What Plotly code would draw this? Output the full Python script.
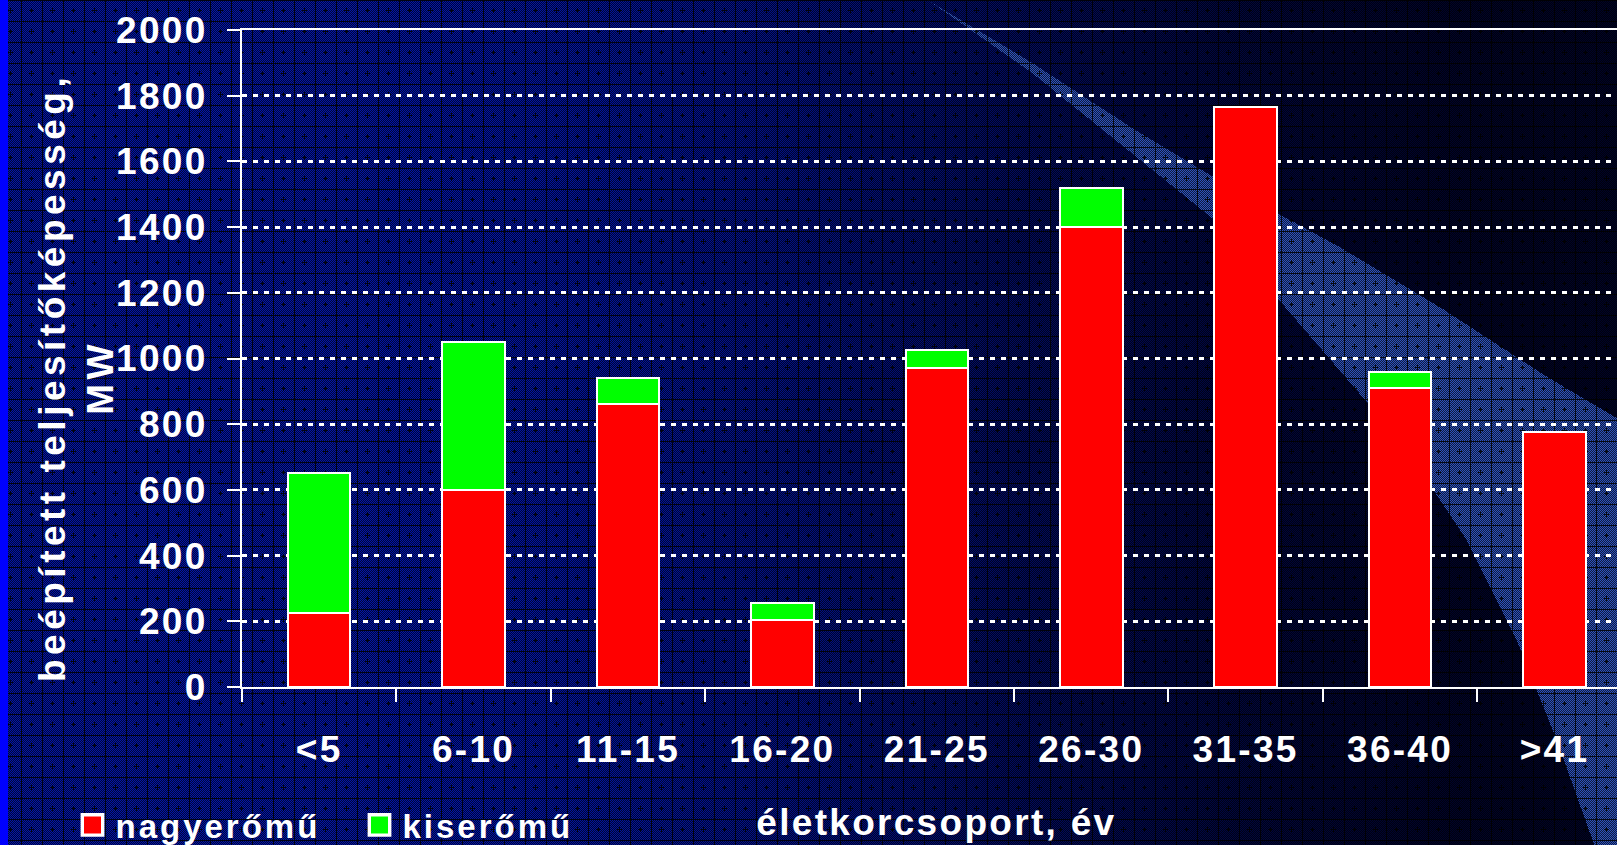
import base64
import struct
import zlib

import numpy as np
import plotly.graph_objects as go

# ---- data -------------------------------------------------------------
categories = ["<5", "6-10", "11-15", "16-20", "21-25", "26-30", "31-35", "36-40", ">41"]
nagyeromu = [225, 600, 860, 205, 970, 1400, 1765, 910, 775]
kiseromu = [425, 450, 80, 50, 55, 120, 0, 50, 0]
y_tick_values = list(range(0, 2001, 200))

# ---- canvas geometry ----------------------------------------------------
W, H = 1617, 845
ML, MR, MT, MB = 242, 0, 30, 158
PW, PH = W - ML - MR, H - MT - MB

# ---- textured slide background (gradient, mesh and light band) ----------
yy, xx = np.mgrid[0:H, 0:W].astype(float)
s = np.clip((xx - 380.0) / 1200.0, 0, 1)
s = s * s * (3 - 2 * s)
c_left = np.array([2.0, 14.0, 112.0])
c_right = np.array([0.0, 2.0, 26.0])
base = c_left * (1 - s)[..., None] + c_right * s[..., None]

upper_y = [0, 62, 129, 191, 247, 309, 376, 418, 530, 845]
upper_x = [928, 1031, 1134, 1237, 1340, 1443, 1546, 1617, 1800, 2300]
lower_y = [0, 72, 155, 222, 299, 371, 443, 536, 639, 742, 845]
lower_x = [928, 1031, 1134, 1217, 1278, 1340, 1402, 1464, 1516, 1557, 1594]
rows = np.arange(H, dtype=float)
xu = np.interp(rows, upper_y, upper_x)
xl = np.interp(rows, lower_y, lower_x)
band = (xx >= xl[:, None]) & (xx <= xu[:, None])
base[band] = np.array([30.0, 54.0, 125.0])

cell = 21
cx = xx % cell
cy = yy % cell
tex = np.where(((xx + yy) % 2) == 0, 1.5, 0.5)
mesh = (cx == 0) | (cy == 0)
plus = ((cx == 10) & (np.abs(cy - 10) <= 2)) | ((cy == 10) & (np.abs(cx - 10) <= 2))
tex = np.where(mesh | plus, 0.15, tex)
img = np.clip(base * tex[..., None], 0, 255).astype(np.uint8)
img[:, :8] = (0, 0, 255)


def png_bytes(arr):
    h, w, _ = arr.shape
    raw = np.concatenate([np.zeros((h, 1), np.uint8), arr.reshape(h, w * 3)], axis=1).tobytes()

    def chunk(tag, data):
        return (struct.pack(">I", len(data)) + tag + data
                + struct.pack(">I", zlib.crc32(tag + data) & 0xFFFFFFFF))

    return (b"\x89PNG\r\n\x1a\n"
            + chunk(b"IHDR", struct.pack(">IIBBBBB", w, h, 8, 2, 0, 0, 0))
            + chunk(b"IDAT", zlib.compress(raw, 9))
            + chunk(b"IEND", b""))


bg_uri = "data:image/png;base64," + base64.b64encode(png_bytes(img)).decode()

# ---- figure --------------------------------------------------------------
FONT = "Liberation Sans, Arial, sans-serif"
title_font = dict(size=37, color="white", family=FONT, weight="bold")

fig = go.Figure()
fig.add_bar(name="nagyerőmű", x=categories, y=nagyeromu,
            marker=dict(color="#ff0000", line=dict(color="white", width=2)))
fig.add_bar(name="kiserőmű", x=categories, y=kiseromu,
            marker=dict(color="#00ff00", line=dict(color="white", width=2)))

fig.update_layout(
    width=W, height=H,
    margin=dict(l=ML, r=MR, t=MT, b=MB, pad=0, autoexpand=False),
    paper_bgcolor="#000a50",
    plot_bgcolor="rgba(0,0,0,0)",
    barmode="stack",
    bargap=0.595,
    font=dict(family=FONT, size=37, color="white", weight="bold"),
    showlegend=True,
    legend=dict(
        orientation="h", traceorder="normal",
        xref="container", yref="container",
        x=75.5 / W, y=20 / H, xanchor="left", yanchor="middle",
        font=dict(size=33, color="white", family=FONT, weight="bold"),
        bgcolor="rgba(0,0,0,0)", entrywidth=242,
    ),
    images=[dict(
        source=bg_uri, xref="paper", yref="paper",
        x=-ML / PW, y=1 + MT / PH, sizex=W / PW, sizey=H / PH,
        xanchor="left", yanchor="top", sizing="stretch", layer="below",
    )],
    annotations=[
        # y-axis title (two lines, rotated)
        dict(text="beépített teljesítőképesség,<br>MW",
             xref="paper", yref="paper",
             x=(76 - ML) / PW, y=(H - MB - 378) / PH,
             xanchor="center", yanchor="middle",
             textangle=-90, showarrow=False, font=title_font),
        # x-axis title
        dict(text="életkorcsoport, év",
             xref="paper", yref="paper",
             x=(936 - ML) / PW, y=-(822 - (H - MB)) / PH,
             xanchor="center", yanchor="middle",
             showarrow=False, font=title_font),
    ],
)

fig.update_xaxes(
    type="category", range=[-0.5, 8.405],
    showline=True, linecolor="white", linewidth=2, mirror=True,
    ticks="outside", tickson="boundaries", ticklen=13, tickwidth=2, tickcolor="white",
    showgrid=False, ticklabelstandoff=29,
    tickfont=dict(size=37, color="white", family=FONT, weight="bold"),
)
fig.update_yaxes(
    range=[0, 2000], tickvals=y_tick_values,
    showline=True, linecolor="white", linewidth=2,
    ticks="outside", ticklen=13, tickwidth=2, tickcolor="white",
    showgrid=True, gridcolor="white", gridwidth=2.5, griddash="5px,6px",
    zeroline=False, ticklabelstandoff=12,
    tickfont=dict(size=37, color="white", family=FONT, weight="bold"),
)

css = (".xtick text,.ytick text{letter-spacing:2.3px}"
       ".legendtext{letter-spacing:3px}"
       ".annotation-text{letter-spacing:2.3px}"
       ".annotation[data-index=\"0\"] .annotation-text{letter-spacing:4.5px}"
       ".legendpoints path{transform:translate(17px,0) scale(1.7)}")
post = ("var s=document.createElement('style');s.textContent='" + css
        + "';document.head.appendChild(s);")

fig.write_html("out.html", post_script=post)
